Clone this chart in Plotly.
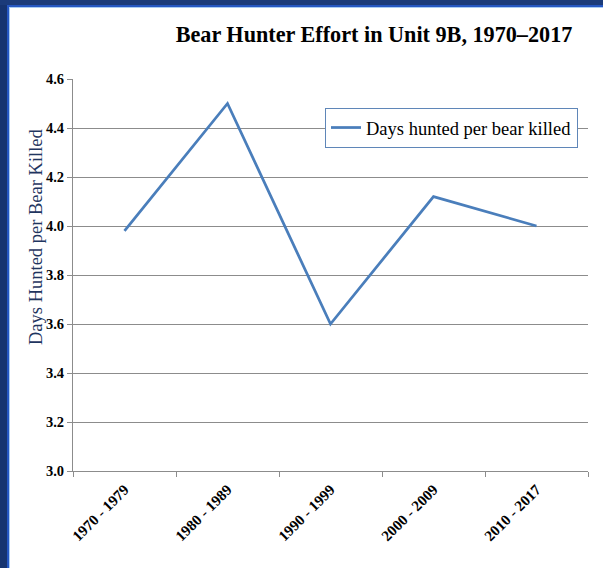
import plotly.graph_objects as go

categories = ["1970 - 1979", "1980 - 1989", "1990 - 1999", "2000 - 2009", "2010 - 2017"]
days_per_bear = [3.98, 4.50, 3.60, 4.12, 4.00]
y_ticks = [3.0, 3.2, 3.4, 3.6, 3.8, 4.0, 4.2, 4.4, 4.6]

W, H = 603, 568
ML, MR, MT, MB = 73, 15, 79, 97
PW, PH = W - ML - MR, H - MT - MB

def px_x(p):
    return (p - ML) / PW

def px_y(p):
    return (H - MB - p) / PH

fig = go.Figure()
fig.add_trace(go.Scatter(
    x=categories, y=days_per_bear, mode="lines",
    name="Days hunted per bear killed",
    line=dict(color="#4A7EBB", width=2.75),
))

serif = "Liberation Serif, Times New Roman, serif"

shapes = []
# dark frame left and top
shapes.append(dict(type="rect", xref="paper", yref="paper",
                   x0=px_x(0), x1=px_x(7), y0=px_y(H), y1=px_y(0),
                   fillcolor="#163470", line_width=0, layer="above"))
shapes.append(dict(type="rect", xref="paper", yref="paper",
                   x0=px_x(7), x1=px_x(9), y0=px_y(H), y1=px_y(5),
                   fillcolor="#2557C2", line_width=0, layer="above"))
shapes.append(dict(type="rect", xref="paper", yref="paper",
                   x0=px_x(9), x1=px_x(10), y0=px_y(H), y1=px_y(7),
                   fillcolor="#A8CBF3", line_width=0, layer="above"))
shapes.append(dict(type="rect", xref="paper", yref="paper",
                   x0=px_x(0), x1=px_x(W), y0=px_y(5), y1=px_y(0),
                   fillcolor="#1B3B7A", line_width=0, layer="above"))
shapes.append(dict(type="rect", xref="paper", yref="paper",
                   x0=px_x(7), x1=px_x(W), y0=px_y(7), y1=px_y(5),
                   fillcolor="#2557C2", line_width=0, layer="above"))
shapes.append(dict(type="rect", xref="paper", yref="paper",
                   x0=px_x(9), x1=px_x(W), y0=px_y(8), y1=px_y(7),
                   fillcolor="#A8CBF3", line_width=0, layer="above"))

fig.update_layout(
    width=W, height=H,
    margin=dict(l=ML, r=MR, t=MT, b=MB),
    paper_bgcolor="white", plot_bgcolor="white",
    title=dict(text="<b>Bear Hunter Effort in Unit 9B, 1970–2017</b>",
               x=px_x(374), xref="paper", xanchor="center",
               y=1 - 34 / H, yanchor="middle",
               font=dict(family=serif, size=22.2, color="black")),
    xaxis=dict(type="category", range=[-0.5, 4.5], tickson="boundaries",
               ticks="outside", ticklen=5, tickcolor="#8C8C8C",
               showline=True, linecolor="#8C8C8C", linewidth=1,
               showgrid=False, tickangle=-45, ticklabelstandoff=3,
               tickfont=dict(family=serif, size=15, color="black", weight="bold")),
    yaxis=dict(range=[3.0, 4.6], tickvals=y_ticks, tickformat=".1f",
               ticks="outside", ticklen=5, tickcolor="#8C8C8C",
               showline=True, linecolor="#8C8C8C", linewidth=1,
               showgrid=True, gridcolor="#8C8C8C", gridwidth=1,
               zeroline=False,
               tickfont=dict(family=serif, size=14.5, color="black", weight="bold")),
    legend=dict(x=px_x(325), y=px_y(108), xanchor="left", yanchor="top",
                bgcolor="white", bordercolor="#5F86B8", borderwidth=1,
                font=dict(family=serif, size=18.5, color="black")),
    showlegend=True,
    shapes=shapes,
    annotations=[dict(text="Days Hunted per Bear Killed", textangle=-90,
                      xref="paper", yref="paper", x=px_x(36), y=px_y(237),
                      xanchor="center", yanchor="middle", showarrow=False,
                      font=dict(family=serif, size=18.5, color="#1F3560"))],
)

fig.write_html("out.html", config={"displayModeBar": False},
               post_script="document.body.style.margin='0';")
